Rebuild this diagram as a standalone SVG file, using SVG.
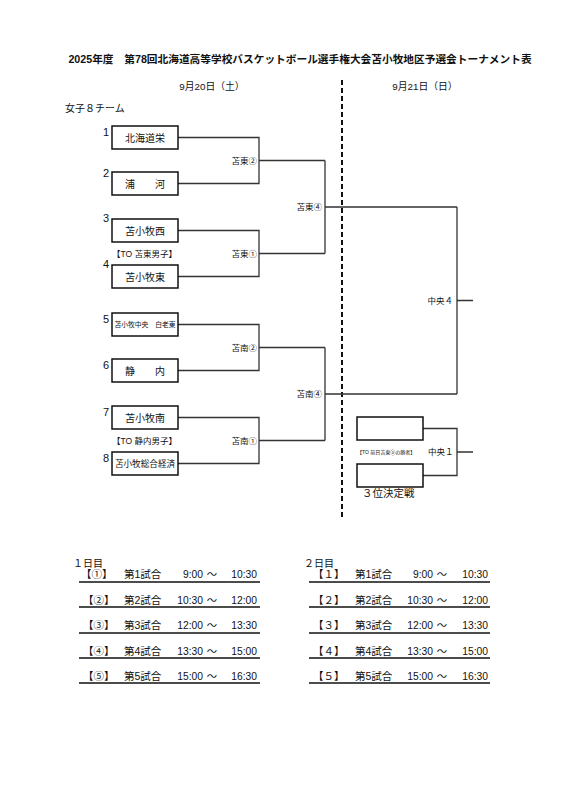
<svg xmlns="http://www.w3.org/2000/svg" width="566" height="800" viewBox="0 0 566 800">
<style>
text{font-family:"Liberation Sans","Noto Sans CJK JP",sans-serif;fill:#111}
.box{fill:#fff;stroke:#111;stroke-width:1.5}
.bt{font-size:10px;text-anchor:middle}
.num{font-size:11px;text-anchor:end}
.con{fill:none;stroke:#333;stroke-width:1.3}
.lbl{font-size:8.5px;text-anchor:end}
.to{font-size:8.5px}
.sch{font-size:10.5px}
.tm{font-size:10.3px;text-anchor:end}
.til{font-size:10.3px;text-anchor:middle}
.ul{stroke:#111;stroke-width:1.5}
</style>
<rect width="566" height="800" fill="#fff"/>
<text x="300" y="63" font-size="10.7" font-weight="bold" text-anchor="middle">2025年度　第78回北海道高等学校バスケットボール選手権大会苫小牧地区予選会トーナメント表</text>
<text x="212" y="90" font-size="9.8" text-anchor="middle">9月20日（土）</text>
<text x="425" y="90" font-size="9.8" text-anchor="middle">9月21日（日）</text>
<text x="65" y="112" font-size="10">女子８チーム</text>
<line x1="342" y1="80" x2="342" y2="518" stroke="#111" stroke-width="2" stroke-dasharray="5 3"/>
<g id="connectors">
<path class="con" d="M178 137.5H259V183.5H178M259 160.5H325"/>
<path class="con" d="M178 230.5H259V276.5H178M259 253.5H325"/>
<path class="con" d="M178 324.5H259V370.5H178M259 347.5H325"/>
<path class="con" d="M178 417.5H259V463.5H178M259 440.5H325"/>
<path class="con" d="M325 160.5V253.5M325 207H457"/>
<path class="con" d="M325 347.5V440.5M325 394H457"/>
<path class="con" d="M457 207V394M457 300.5H473"/>
<path class="con" d="M423 428.5H457V475.5H423M457 452H473"/>
<text class="lbl" x="257" y="163.5">苫東②</text>
<text class="lbl" x="257" y="256.5">苫東①</text>
<text class="lbl" x="322" y="210">苫東④</text>
<text class="lbl" x="257" y="350.5">苫南②</text>
<text class="lbl" x="257" y="443.5">苫南①</text>
<text class="lbl" x="322" y="397">苫南④</text>
<text class="lbl" x="453" y="303.5">中央４</text>
<text x="428" y="455" font-size="8.5">中央１</text>
</g>
<g id="team1"><rect class="box" x="112" y="126" width="66" height="23"/><text class="num" x="109" y="136">1</text><text class="bt" x="145" y="141.5">北海道栄</text></g>
<g id="team2"><rect class="box" x="112" y="172" width="66" height="23"/><text class="num" x="109" y="177">2</text><text class="bt" x="145" y="187.5">浦　　河</text></g>
<g id="team3"><rect class="box" x="112" y="219" width="66" height="23"/><text class="num" x="109" y="222">3</text><text class="bt" x="145" y="234.5">苫小牧西</text></g>
<text class="to" x="112" y="257">【TO 苫東男子】</text>
<g id="team4"><rect class="box" x="112" y="265" width="66" height="23"/><text class="num" x="109" y="268">4</text><text class="bt" x="145" y="280.5">苫小牧東</text></g>
<g id="team5"><rect class="box" x="112" y="313" width="66" height="23"/><text class="num" x="109" y="323">5</text><text x="145" y="327" font-size="6.8" text-anchor="middle">苫小牧中央　白老東</text></g>
<g id="team6"><rect class="box" x="112" y="359" width="66" height="23"/><text class="num" x="109" y="369">6</text><text class="bt" x="145" y="374.5">静　　内</text></g>
<g id="team7"><rect class="box" x="112" y="406" width="66" height="23"/><text class="num" x="109" y="416">7</text><text class="bt" x="145" y="421.5">苫小牧南</text></g>
<text class="to" x="112" y="443.5">【TO 静内男子】</text>
<g id="team8"><rect class="box" x="112" y="452" width="66" height="23"/><text class="num" x="109" y="462">8</text><text x="145" y="466.5" font-size="8.6" text-anchor="middle">苫小牧総合経済</text></g>
<g id="third1"><rect class="box" x="357" y="417" width="66" height="23"/></g>
<text x="357" y="454" font-size="5">【TO 前日苫東⑤の勝者】</text>
<g id="third2"><rect class="box" x="357" y="464" width="66" height="23"/></g>
<text x="362" y="497" font-size="10.5">３位決定戦</text>
<g id="day1">
<text x="73" y="567" font-size="10">１日目</text>
<text class="sch" x="81" y="578">【①】</text><text class="sch" x="124" y="578">第1試合</text><text class="tm" x="203" y="578">9:00</text><text class="til" x="212" y="578">～</text><text class="tm" x="257" y="578">10:30</text><line class="ul" x1="79" y1="582" x2="260" y2="582"/>
<text class="sch" x="83" y="603.5">【②】</text><text class="sch" x="124" y="603.5">第2試合</text><text class="tm" x="203" y="603.5">10:30</text><text class="til" x="212" y="603.5">～</text><text class="tm" x="257" y="603.5">12:00</text><line class="ul" x1="79" y1="607" x2="260" y2="607"/>
<text class="sch" x="83" y="629">【③】</text><text class="sch" x="124" y="629">第3試合</text><text class="tm" x="203" y="629">12:00</text><text class="til" x="212" y="629">～</text><text class="tm" x="257" y="629">13:30</text><line class="ul" x1="79" y1="633" x2="260" y2="633"/>
<text class="sch" x="83" y="654.5">【④】</text><text class="sch" x="124" y="654.5">第4試合</text><text class="tm" x="203" y="654.5">13:30</text><text class="til" x="212" y="654.5">～</text><text class="tm" x="257" y="654.5">15:00</text><line class="ul" x1="79" y1="658" x2="260" y2="658"/>
<text class="sch" x="83" y="679.5">【⑤】</text><text class="sch" x="124" y="679.5">第5試合</text><text class="tm" x="203" y="679.5">15:00</text><text class="til" x="212" y="679.5">～</text><text class="tm" x="257" y="679.5">16:30</text><line class="ul" x1="79" y1="683" x2="260" y2="683"/>
</g>
<g id="day2">
<text x="304" y="567" font-size="10">２日目</text>
<text class="sch" x="313" y="578">【１】</text><text class="sch" x="355" y="578">第1試合</text><text class="tm" x="433" y="578">9:00</text><text class="til" x="442" y="578">～</text><text class="tm" x="488" y="578">10:30</text><line class="ul" x1="309" y1="582" x2="490" y2="582"/>
<text class="sch" x="313" y="603.5">【２】</text><text class="sch" x="355" y="603.5">第2試合</text><text class="tm" x="433" y="603.5">10:30</text><text class="til" x="442" y="603.5">～</text><text class="tm" x="488" y="603.5">12:00</text><line class="ul" x1="309" y1="607" x2="490" y2="607"/>
<text class="sch" x="313" y="629">【３】</text><text class="sch" x="355" y="629">第3試合</text><text class="tm" x="433" y="629">12:00</text><text class="til" x="442" y="629">～</text><text class="tm" x="488" y="629">13:30</text><line class="ul" x1="309" y1="633" x2="490" y2="633"/>
<text class="sch" x="313" y="654.5">【４】</text><text class="sch" x="355" y="654.5">第4試合</text><text class="tm" x="433" y="654.5">13:30</text><text class="til" x="442" y="654.5">～</text><text class="tm" x="488" y="654.5">15:00</text><line class="ul" x1="309" y1="658" x2="490" y2="658"/>
<text class="sch" x="313" y="679.5">【５】</text><text class="sch" x="355" y="679.5">第5試合</text><text class="tm" x="433" y="679.5">15:00</text><text class="til" x="442" y="679.5">～</text><text class="tm" x="488" y="679.5">16:30</text><line class="ul" x1="309" y1="683" x2="490" y2="683"/>
</g>
</svg>
